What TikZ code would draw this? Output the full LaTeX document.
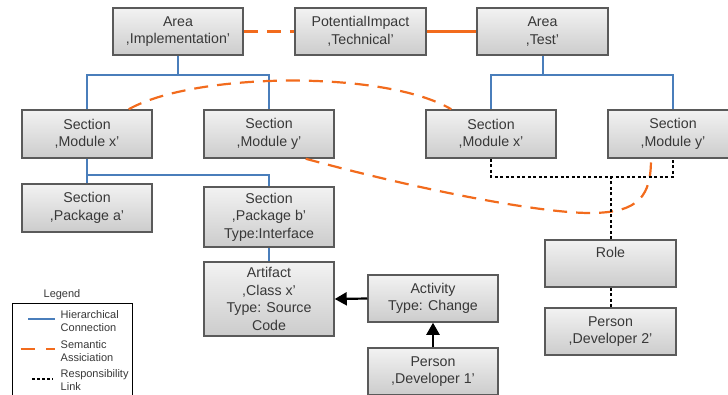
\documentclass[tikz,border=0pt]{standalone}
\usepackage{fontspec}
\setmainfont{Liberation Sans}
\usetikzlibrary{arrows.meta}
\definecolor{hblue}{HTML}{4A7EBB}
\definecolor{sorange}{HTML}{F26B1D}
\definecolor{txt}{HTML}{383838}
\definecolor{bord}{HTML}{5A5A5A}
\begin{document}
\begin{tikzpicture}[x=1pt,y=-1pt,
  ent/.style={draw=bord,line width=1.5pt,top color=white!95!black,bottom color=white!80!black,
    minimum width=130pt,minimum height=47pt,inner sep=0pt,align=center,text=txt,
    font=\fontsize{14.2}{17.5}\selectfont},
  hier/.style={draw=hblue,line width=2pt},
  sem/.style={draw=sorange,line width=2.2pt,dash pattern=on 14pt off 9pt},
  semsolid/.style={draw=sorange,line width=2.2pt},
  resp/.style={draw=black,line width=2pt,dash pattern=on 3pt off 2.5pt},
  act/.style={draw=black,line width=2.2pt,-{Triangle[length=12pt,width=13pt]}},
  legtxt/.style={text=txt,font=\fontsize{11}{13}\selectfont,align=left,inner sep=0pt}]
\useasboundingbox (0,0) rectangle (728,394);
\clip (0,0) rectangle (728,394);
% entities
\node[ent] (ai) at (178,31.5) {Area\\,Implementation'};
\node[ent,minimum width=131pt] (pt) at (360.5,31.5) {PotentialImpact\\,Technical'};
\node[ent,minimum width=131pt] (at) at (542.5,31.5) {Area\\,Test'};
\node[ent,minimum height=48pt] (mxl) at (87,134) {Section\\,Module x'};
\node[ent,minimum height=48pt] (myl) at (269,134) {Section\\,Module y'};
\node[ent,minimum height=48pt] (mxr) at (491,134) {Section\\,Module x'};
\node[ent,minimum height=48pt] (myr) at (673,134) {Section\\,Module y'};
\node[ent,minimum height=48pt] (pa) at (87,208) {Section\\,Package a'};
\node[ent,minimum height=60pt] (pb) at (269,217) {Section\\,Package b'\\Type:Interface};
\node[ent,minimum height=74pt] (art) at (269,299) {Artifact\\,Class x'\\Type: Source\\Code};
\node[ent] (actv) at (433,298.5) {Activity\\Type: Change};
\node[ent] (p1) at (433,371.5) {Person\\,Developer 1'};
\node[ent,minimum width=131pt] (role) at (610.5,263.5) {Role\\\strut};
\node[ent,minimum width=131pt] (p2) at (610.5,331.5) {Person\\,Developer 2'};
% hierarchical
\draw[hier] (ai.south) -- ++(0,19) -| (mxl.north);
\draw[hier] (ai.south) -- ++(0,19) -| (myl.north);
\draw[hier] (at.south) -- ++(0,19) -| (mxr.north);
\draw[hier] (at.south) -- ++(0,19) -| (myr.north);
\draw[hier] (mxl.south) -- (pa.north);
\draw[hier] (mxl.south) -- ++(0,16) -| (pb.north);
\draw[hier] (pb.south) -- (art.north);
% semantic
\draw[sem] (ai.east) -- (pt.west);
\draw[semsolid] (pt.east) -- (at.west);
\draw[sem] ([xshift=-24pt]mxl.north east) .. controls (195,72) and (385,70) .. ([xshift=26pt]mxr.north west);
\draw[sem] ([xshift=-29pt]myl.south east) .. controls (420,190) and (540,213) .. (590,213)
  .. controls (640,213) and (651,195) .. ([xshift=-22pt]myr.south);
% responsibility
\coordinate (rj) at (610.5,177);
\draw[resp] (mxr.south) |- (rj) -| (myr.south);
\draw[resp] (role.north) -- (rj);
\draw[resp] (role.south) -- (p2.north);
% activity arrows
\draw[act] (actv.west) -- (art.east);
\draw[act] (p1.north) -- (actv.south);
% legend
\node[legtxt] (legt) at (62,295) {Legend};
\node[draw=black,line width=1pt,minimum width=120pt,minimum height=100pt,inner sep=0pt,anchor=north west] (leg) at (12,303) {};
\node[legtxt,anchor=west] (l1) at (60.5,320.8) {Hierarchical\\Connection};
\node[legtxt,anchor=west] (l2) at (60.5,351.3) {Semantic\\Assiciation};
\node[legtxt,anchor=west] (l3) at (60.5,380) {Responsibility\\Link};
\draw[hier] (28,319.3) -- (55,319.3);
\draw[sorange,line width=2.2pt,dash pattern=on 14.5pt off 11pt] (20.5,349.3) -- (55,349.3);
\draw[resp,dash pattern=on 3pt off 2pt] (32,379) -- (53,379);
\end{tikzpicture}
\end{document}
